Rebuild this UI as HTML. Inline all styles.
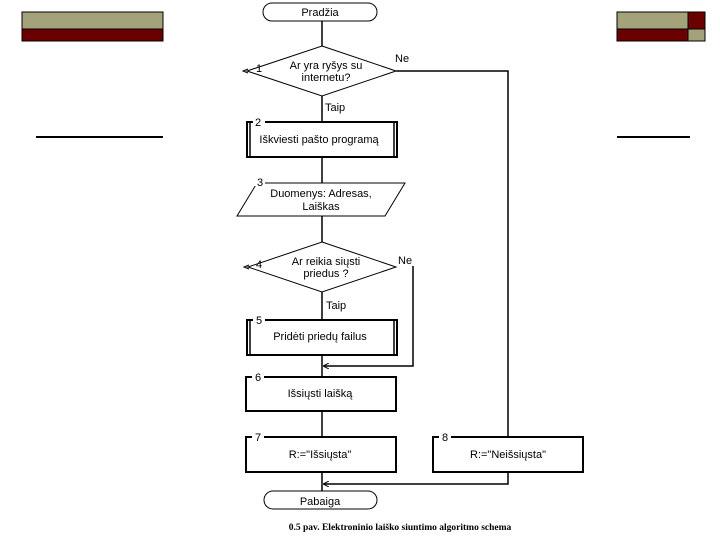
<!DOCTYPE html>
<html><head><style>
body{margin:0;width:720px;height:540px;background:#fff;overflow:hidden}
svg{position:absolute;left:0;top:0}
text{font-family:"Liberation Sans",sans-serif;font-size:11px;fill:#000}
</style></head><body>
<svg width="720" height="540" viewBox="0 0 720 540">
<defs><marker id="a" markerUnits="userSpaceOnUse" markerWidth="6" markerHeight="6" refX="5" refY="3" orient="auto"><path d="M0,0 L6,3 L0,6" fill="none" stroke="#000" stroke-width="1"/></marker></defs>
<rect x="22" y="12" width="141" height="17" fill="#a4a27a" stroke="#000" stroke-width="1"/>
<rect x="22" y="29" width="141" height="12" fill="#6b0000" stroke="#000" stroke-width="1"/>
<rect x="617" y="12" width="71" height="17" fill="#a4a27a" stroke="#000"/>
<rect x="688" y="12" width="17" height="17" fill="#6b0000" stroke="#000"/>
<rect x="617" y="29" width="71" height="12" fill="#6b0000" stroke="#000"/>
<rect x="688" y="29" width="17" height="12" fill="#a4a27a" stroke="#000"/>
<line x1="36" y1="137" x2="163" y2="137" stroke="#000" stroke-width="2"/>
<line x1="617" y1="137" x2="690" y2="137" stroke="#000" stroke-width="2"/>
<g stroke="#000" fill="none" stroke-width="1.5">
<rect x="263" y="3" width="114" height="18" rx="9" fill="#fff" stroke-width="1"/>
<line x1="322" y1="21" x2="322" y2="491"/>
<polygon points="322,46 396,71 322,96 247,71" fill="#fff" stroke-width="1"/>
<path d="M396,71 H508 V437"/>
<rect x="247" y="122" width="150" height="35" fill="#fff" stroke-width="2"/>
<line x1="250" y1="122" x2="250" y2="157"/><line x1="394" y1="122" x2="394" y2="157"/>
<polygon points="257,183 405,183 385,216 237,216" fill="#fff" stroke-width="1"/>
<polygon points="322,242 396,267 322,292 248,267" fill="#fff" stroke-width="1"/>
<path d="M413,266 V366 H324" marker-end="url(#a)"/>
<rect x="247" y="320" width="150" height="35" fill="#fff" stroke-width="2"/>
<line x1="250" y1="320" x2="250" y2="355"/><line x1="394" y1="320" x2="394" y2="355"/>
<rect x="246" y="377" width="150" height="34" fill="#fff" stroke-width="2"/>
<rect x="246" y="437" width="150" height="35" fill="#fff" stroke-width="2"/>
<rect x="433" y="437" width="150" height="35" fill="#fff" stroke-width="2"/>
<path d="M508,472 V484 H324" marker-end="url(#a)"/>
<rect x="264" y="491" width="113" height="18" rx="9" fill="#fff" stroke-width="1"/>
<path d="M248,69 L243,71 L248,73" stroke-width="1"/><path d="M249,265 L244,267 L249,269" stroke-width="1"/>
</g>
<g fill="#fff"><rect x="253" y="117" width="12" height="9"/><rect x="253" y="178" width="12" height="8"/><rect x="253" y="315" width="12" height="9"/><rect x="252" y="372" width="12" height="9"/><rect x="252" y="432" width="12" height="9"/><rect x="439" y="432" width="12" height="9"/></g>
<text x="320" y="16" text-anchor="middle">Pradžia</text>
<text x="256" y="72">1</text>
<text x="326" y="69" text-anchor="middle">Ar yra ryšys su</text>
<text x="326" y="81" text-anchor="middle">internetu?</text>
<text x="395" y="62">Ne</text>
<text x="325" y="111">Taip</text>
<text x="255" y="126">2</text>
<text x="319" y="143" text-anchor="middle">Iškviesti pašto programą</text>
<text x="257" y="186">3</text>
<text x="321" y="197" text-anchor="middle">Duomenys:  Adresas,</text>
<text x="321" y="210" text-anchor="middle">Laiškas</text>
<text x="256" y="268">4</text>
<text x="326" y="265" text-anchor="middle">Ar reikia siųsti</text>
<text x="326" y="277" text-anchor="middle">priedus ?</text>
<text x="398" y="264">Ne</text>
<text x="326" y="309">Taip</text>
<text x="256" y="324">5</text>
<text x="320" y="340" text-anchor="middle">Pridėti priedų failus</text>
<text x="255" y="381">6</text>
<text x="320" y="397" text-anchor="middle">Išsiųsti laišką</text>
<text x="255" y="441">7</text>
<text x="320" y="458" text-anchor="middle">R:="Išsiųsta"</text>
<text x="442" y="441">8</text>
<text x="508" y="458" text-anchor="middle">R:="Neišsiųsta"</text>
<text x="320" y="505" text-anchor="middle">Pabaiga</text>
<text x="400" y="530" text-anchor="middle" style="font-family:'Liberation Serif',serif;font-weight:bold;font-size:9.5px">0.5 pav. Elektroninio laiško siuntimo algoritmo schema</text>
</svg>
</body></html>
